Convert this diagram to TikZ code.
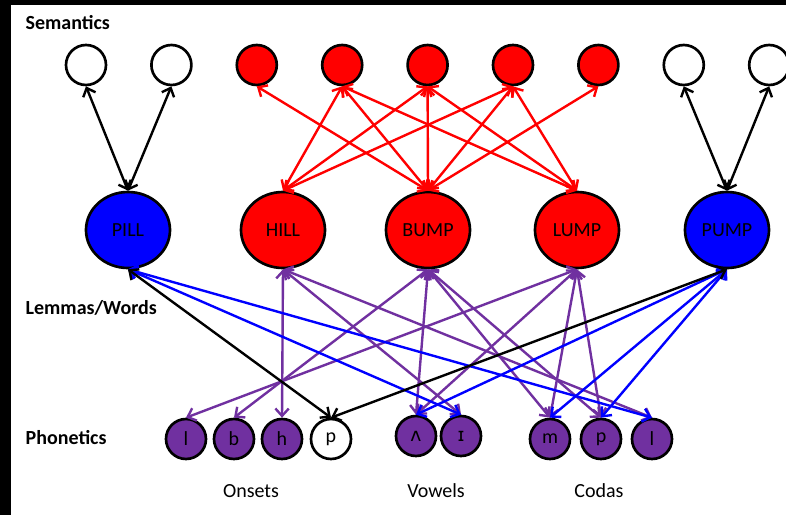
\documentclass[tikz,border=0pt]{standalone}
\usepackage{fontspec}
\setmainfont{Carlito}
\newfontfamily\ipafont{DejaVu Sans}
\usetikzlibrary{arrows.meta,shapes.geometric}
\definecolor{wpurple}{RGB}{112,48,160}
\begin{document}
\begin{tikzpicture}[x=0.75pt,y=-0.75pt,
  font=\fontsize{15}{18}\selectfont,
  sem/.style={circle,draw,line width=2pt,minimum size=30pt,inner sep=0pt},
  lemma/.style={ellipse,draw,line width=2pt,minimum width=63pt,minimum height=57pt,inner sep=0pt},
  phon/.style={circle,draw,line width=2pt,fill=wpurple,minimum size=30pt,inner sep=0pt},
  layer/.style={font=\fontsize{15}{18}\selectfont\bfseries,anchor=west},
  link/.style={{Straight Barb[length=5.5pt,width=10pt]}-{Straight Barb[length=5.5pt,width=10pt]},line width=1.8pt}]
\pgfmathsetmacro{\dx}{85.4}
%
\useasboundingbox (0,0) rectangle (786,515);
\fill[black] (0,0) rectangle (786,515);
\fill[white] (11,5) rectangle (786,515);
%
\node[layer] (tsem) at (21,23) {Semantics};
\node[layer] (tlem) at (21,308) {Lemmas/Words};
\node[layer] (tpho) at (21,438) {Phonetics};
%
\foreach \i/\c in {1/white,2/white,3/red,4/red,5/red,6/red,7/red,8/white,9/white}
  \node[sem,fill=\c] (s\i) at ({86+\dx*(\i-1)},65) {};
%
\node[lemma,fill=blue] (pill) at (128,230) {PILL};
\node[lemma,fill=red]  (hill) at (283,230) {HILL};
\node[lemma,fill=red]  (bump) at (428,230) {BUMP};
\node[lemma,fill=red]  (lump) at (577,230) {LUMP};
\node[lemma,fill=blue] (pump) at (727,230) {PUMP};
%
\node[phon] (on1) at (186,439) {l};
\node[phon] (on2) at (234,439) {b};
\node[phon] (on3) at (282,439) {h};
\node[phon,fill=white] (on4) at (331,439) {p};
\node[phon] (vo1) at (416,436) {\ipafont\fontsize{14}{14}\selectfont ʌ};
\node[phon] (vo2) at (461,436) {\ipafont\fontsize{14}{14}\selectfont ɪ};
\node[phon] (co1) at (550,439) {m};
\node[phon] (co2) at (601,439) {p};
\node[phon] (co3) at (652,439) {l};
%
\node (tons) at (251,491) {Onsets};
\node (tvow) at (436,491) {Vowels};
\node (tcod) at (599,491) {Codas};
%
% semantics -- lemmas
\foreach \s in {1,2} \draw[link] (s\s.south) -- (pill.north);
\foreach \s in {8,9} \draw[link] (s\s.south) -- (pump.north);
\foreach \s in {4,5,6} \draw[link,red] (s\s.south) -- (hill.north);
\foreach \s in {3,...,7} \draw[link,red] (s\s.south) -- (bump.north);
\foreach \s in {4,5,6} \draw[link,red] (s\s.south) -- (lump.north);
%
% lemmas -- phonetics
\foreach \p in {on3,vo2,co3} \draw[link,wpurple] (hill.south) -- (\p.north);
\foreach \p in {on2,vo1,co1,co2} \draw[link,wpurple] (bump.south) -- (\p.north);
\foreach \p in {on1,vo1,co1,co2} \draw[link,wpurple] (lump.south) -- (\p.north);
\foreach \p in {vo2,co3} \draw[link,blue] (pill.south) -- (\p.north);
\foreach \p in {vo1,co1,co2} \draw[link,blue] (pump.south) -- (\p.north);
\draw[link] (pill.south) -- (on4.north);
\draw[link] (pump.south) -- (on4.north);
\end{tikzpicture}
\end{document}
